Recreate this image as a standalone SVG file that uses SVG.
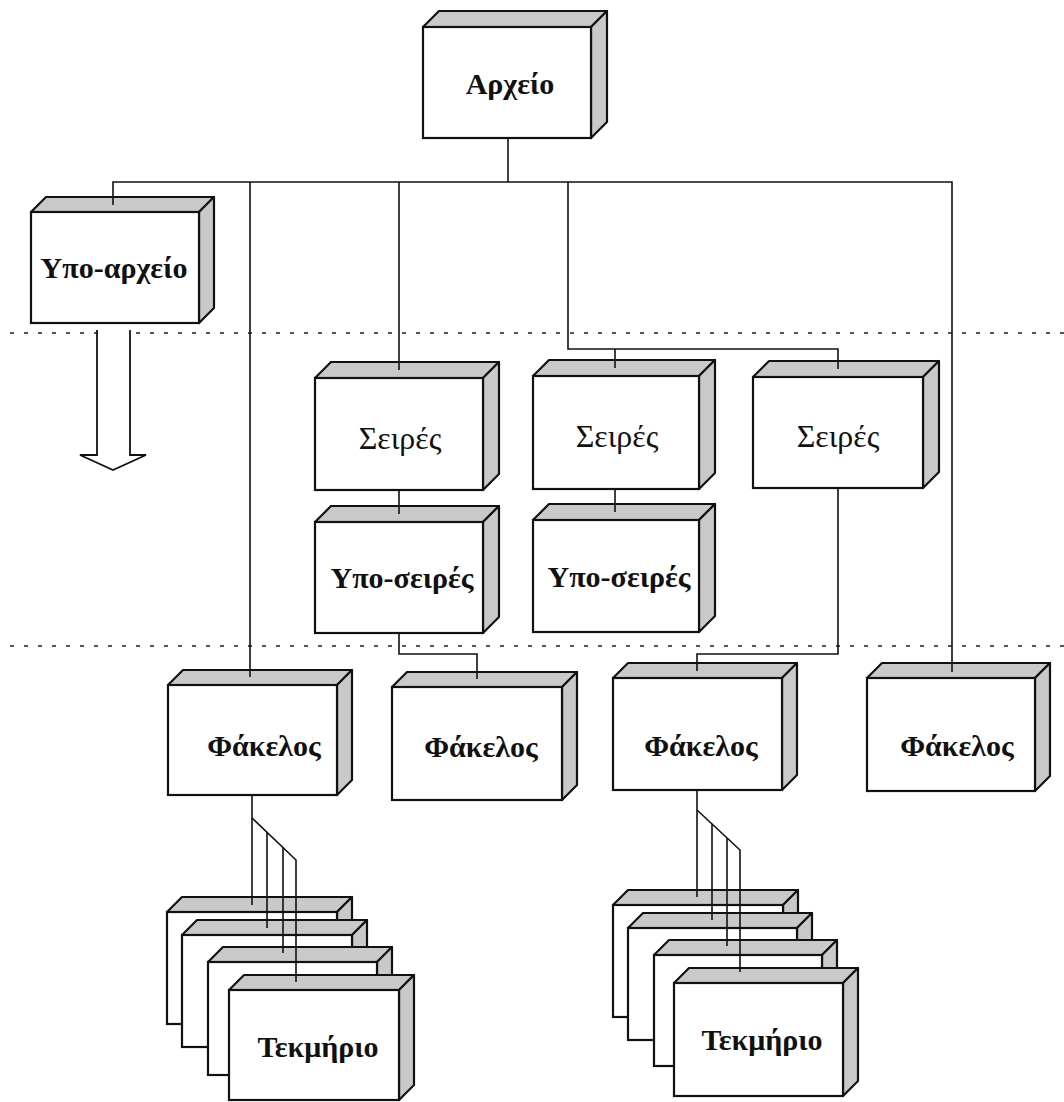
<svg xmlns="http://www.w3.org/2000/svg" width="1064" height="1102" viewBox="0 0 1064 1102">
<style>
.f{fill:#fff;stroke:#111;stroke-width:2.2}
.s{fill:#c9c9c9;stroke:#111;stroke-width:2.2;stroke-linejoin:round}
.c{fill:none;stroke:#111;stroke-width:1.6}
.d{fill:none;stroke:#555;stroke-width:2;stroke-dasharray:4 10}
.t{font-family:"Liberation Serif","DejaVu Serif",serif;font-size:30px;text-anchor:middle;fill:#111}
.b{font-weight:bold}
.r{font-size:32px}
</style>
<rect width="1064" height="1102" fill="#fff"/>
<g id="separators">
<line class="d" x1="10" y1="333" x2="1064" y2="333"/>
<line class="d" x1="10" y1="646" x2="1064" y2="646"/>
</g>
<g id="archive">
<polygon class="s" points="423,27 439,11 607,11 591,27"/>
<polygon class="s" points="591,27 607,11 607,122 591,138"/>
<rect class="f" x="423" y="27" width="168" height="111"/>
<text class="t b" x="510" y="94">Αρχείο</text>
</g>
<g id="subarchive">
<polygon class="s" points="31,212 46,197 214,197 199,212"/>
<polygon class="s" points="199,212 214,197 214,308 199,323"/>
<rect class="f" x="31" y="212" width="168" height="111"/>
<text class="t b" x="114" y="278">Υπο-αρχείο</text>
<path class="f" d="M97,330 V455 H80 L113,470 L146,455 H130 V330" style="stroke-width:1.8"/>
</g>
<g id="series1">
<polygon class="s" points="315,378 331,362 499,362 483,378"/>
<polygon class="s" points="483,378 499,362 499,474 483,490"/>
<rect class="f" x="315" y="378" width="168" height="112"/>
<text class="t r" x="400" y="449">Σειρές</text>
</g>
<g id="series2">
<polygon class="s" points="533,376 549,360 715,360 699,376"/>
<polygon class="s" points="699,376 715,360 715,473 699,489"/>
<rect class="f" x="533" y="376" width="166" height="113"/>
<text class="t r" x="617" y="447">Σειρές</text>
</g>
<g id="series3">
<polygon class="s" points="753,377 769,361 939,361 923,377"/>
<polygon class="s" points="923,377 939,361 939,472 923,488"/>
<rect class="f" x="753" y="377" width="170" height="111"/>
<text class="t r" x="838" y="447">Σειρές</text>
</g>
<g id="subseries1">
<polygon class="s" points="315,522 331,506 499,506 483,522"/>
<polygon class="s" points="483,522 499,506 499,617 483,633"/>
<rect class="f" x="315" y="522" width="168" height="111"/>
<text class="t b" x="402" y="588">Υπο-σειρές</text>
</g>
<g id="subseries2">
<polygon class="s" points="533,520 549,504 715,504 699,520"/>
<polygon class="s" points="699,520 715,504 715,616 699,632"/>
<rect class="f" x="533" y="520" width="166" height="112"/>
<text class="t b" x="619" y="587">Υπο-σειρές</text>
</g>
<g id="file1">
<polygon class="s" points="168,685 183,670 352,670 337,685"/>
<polygon class="s" points="337,685 352,670 352,780 337,795"/>
<rect class="f" x="168" y="685" width="169" height="110"/>
<text class="t b" x="264" y="756">Φάκελος</text>
</g>
<g id="file2">
<polygon class="s" points="392,687 407,672 577,672 562,687"/>
<polygon class="s" points="562,687 577,672 577,785 562,800"/>
<rect class="f" x="392" y="687" width="170" height="113"/>
<text class="t b" x="481" y="757">Φάκελος</text>
</g>
<g id="file3">
<polygon class="s" points="613,678 628,663 797,663 782,678"/>
<polygon class="s" points="782,678 797,663 797,775 782,790"/>
<rect class="f" x="613" y="678" width="169" height="112"/>
<text class="t b" x="701" y="756">Φάκελος</text>
</g>
<g id="file4">
<polygon class="s" points="867,678 882,663 1050,663 1035,678"/>
<polygon class="s" points="1035,678 1050,663 1050,776 1035,791"/>
<rect class="f" x="867" y="678" width="168" height="113"/>
<text class="t b" x="957" y="756">Φάκελος</text>
</g>
<g id="items-left">
<polygon class="s" points="167,912 182,897 352,897 337,912"/>
<polygon class="s" points="337,912 352,897 352,1009 337,1024"/>
<rect class="f" x="167" y="912" width="170" height="112"/>
<polygon class="s" points="182,935 197,920 367,920 352,935"/>
<polygon class="s" points="352,935 367,920 367,1032 352,1047"/>
<rect class="f" x="182" y="935" width="170" height="112"/>
<polygon class="s" points="208,962 223,947 392,947 377,962"/>
<polygon class="s" points="377,962 392,947 392,1060 377,1075"/>
<rect class="f" x="208" y="962" width="169" height="113"/>
<polygon class="s" points="229,990 244,975 414,975 399,990"/>
<polygon class="s" points="399,990 414,975 414,1085 399,1100"/>
<rect class="f" x="229" y="990" width="170" height="110"/>
<text class="t b" x="318" y="1057">Τεκμήριο</text>
</g>
<g id="items-right">
<polygon class="s" points="613,905 628,890 798,890 783,905"/>
<polygon class="s" points="783,905 798,890 798,1002 783,1017"/>
<rect class="f" x="613" y="905" width="170" height="112"/>
<polygon class="s" points="628,928 643,913 812,913 797,928"/>
<polygon class="s" points="797,928 812,913 812,1025 797,1040"/>
<rect class="f" x="628" y="928" width="169" height="112"/>
<polygon class="s" points="654,955 669,940 837,940 822,955"/>
<polygon class="s" points="822,955 837,940 837,1051 822,1066"/>
<rect class="f" x="654" y="955" width="168" height="111"/>
<polygon class="s" points="674,983 689,968 858,968 843,983"/>
<polygon class="s" points="843,983 858,968 858,1081 843,1096"/>
<rect class="f" x="674" y="983" width="169" height="113"/>
<text class="t b" x="762" y="1050">Τεκμήριο</text>
</g>
<g id="connectors">
<path class="c" d="M508,138 V182"/>
<path class="c" d="M113,205 V182 H952 V672"/>
<path class="c" d="M250,182 V677"/>
<path class="c" d="M399,182 V370"/>
<path class="c" d="M568,182 V349 H838 V369"/>
<path class="c" d="M615,349 V368"/>
<path class="c" d="M399,490 V514"/>
<path class="c" d="M615,489 V512"/>
<path class="c" d="M399,633 V654 H477 V679"/>
<path class="c" d="M838,488 V654 H697 V671"/>
<path class="c" d="M252,795 V905"/>
<path class="c" d="M252,818 L296,860 V982"/>
<path class="c" d="M267,832 V928"/>
<path class="c" d="M283,847 V953"/>
<path class="c" d="M697,790 V897"/>
<path class="c" d="M697,810 L740,850 V972"/>
<path class="c" d="M712,824 V920"/>
<path class="c" d="M727,838 V946"/>
</g>
</svg>
